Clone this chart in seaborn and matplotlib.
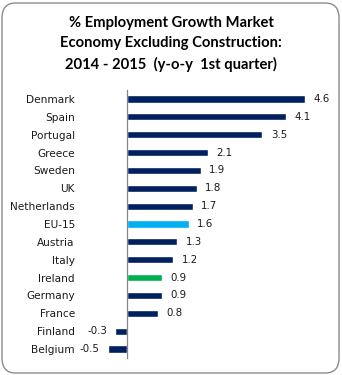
import matplotlib
matplotlib.use("Agg")
import matplotlib.pyplot as plt
import seaborn as sns
import numpy as np
from matplotlib.patches import FancyBboxPatch
from matplotlib.ticker import FixedLocator

countries = ["Denmark", "Spain", "Portugal", "Greece", "Sweden", "UK", "Netherlands",
             "EU-15", "Austria", "Italy", "Ireland", "Germany", "France", "Finland", "Belgium"]
values = [4.6, 4.1, 3.5, 2.1, 1.9, 1.8, 1.7, 1.6, 1.3, 1.2, 0.9, 0.9, 0.8, -0.3, -0.5]
labels = ["4.6", "4.1", "3.5", "2.1", "1.9", "1.8", "1.7", "1.6", "1.3", "1.2", "0.9", "0.9", "0.8", "-0.3", "-0.5"]
title = "% Employment Growth Market\nEconomy Excluding Construction:\n2014 - 2015  (y-o-y  1st quarter)"

navy = "#002060"
colors = {c: navy for c in countries}
colors["EU-15"] = "#00B0F0"
colors["Ireland"] = "#00B050"

sns.set_style("white")
W, H = 342, 375
fig = plt.figure(figsize=(W / 100, H / 100), dpi=100)

# rounded border
fig.patches.append(FancyBboxPatch((2 / W, 2 / H), (W - 5) / W, (H - 5) / H,
                                  boxstyle="round,pad=0,rounding_size=0.04",
                                  transform=fig.transFigure, facecolor="white",
                                  edgecolor="#8c8c8c", linewidth=1.0, zorder=-10))

left_px, right_px = 88.3, 320.5
top_px, bot_px = 90, 358
ax = fig.add_axes([left_px / W, 1 - bot_px / H, (right_px - left_px) / W, (bot_px - top_px) / H])
ax.patch.set_alpha(0)

sns.barplot(x=values, y=countries, hue=countries, palette=colors, legend=False,
            width=0.4, orient="h", ax=ax, saturation=1)

ax.set_xlim(-1, 5)
ax.set_ylim(len(countries) - 0.5, -0.5)
for s in ["top", "right", "bottom"]:
    ax.spines[s].set_visible(False)
ax.spines["left"].set_position(("data", 0))
ax.spines["left"].set_color("#868686")
ax.spines["left"].set_linewidth(0.9)
ax.set_xticks([])
ax.set_xlabel("")
ax.set_ylabel("")
ax.yaxis.set_minor_locator(FixedLocator(np.arange(-0.5, len(countries), 1)))
ax.tick_params(axis="y", which="major", length=0, pad=37.5, labelsize=7.6, labelcolor="#1a1a1a")
ax.tick_params(axis="y", which="minor", length=2.5, width=0.8, color="#868686", direction="out")
for lab in ax.get_yticklabels():
    lab.set_fontfamily("DejaVu Sans")

for i, (v, t) in enumerate(zip(values, labels)):
    if v >= 0:
        ax.annotate(t, (v, i), xytext=(6, 0), textcoords="offset points",
                    ha="left", va="center", fontsize=7.4, color="#1a1a1a",
                    annotation_clip=False)
    else:
        ax.annotate(t, (v, i), xytext=(-6, 0), textcoords="offset points",
                    ha="right", va="center", fontsize=7.4, color="#1a1a1a",
                    annotation_clip=False)

fig.text(0.5, 1 - 44 / H, title, ha="center", va="center", fontsize=10.6,
         fontweight="bold", family=["Lato", "DejaVu Sans"], linespacing=1.58, color="black")

fig.savefig("out.png", dpi=100)
